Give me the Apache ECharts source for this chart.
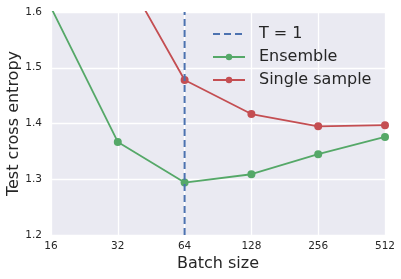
<!DOCTYPE html>
<html><head><meta charset="utf-8">
<script src="https://cdn.jsdelivr.net/npm/echarts@6/dist/echarts.min.js"></script>
<style>html,body{margin:0;padding:0;background:#fff}#c{width:401px;height:279px}</style>
</head><body><div id="c"></div>
<script>
const batchSizes = [16, 32, 64, 128, 256, 512];
const ensemble = [1.608, 1.367, 1.294, 1.309, 1.345, 1.376];
const singleBatch = [32, 64, 128, 256, 512];
const singleSample = [1.69, 1.478, 1.417, 1.395, 1.397];
const tOneBatch = 64;
const yRange = [1.2, 1.6];

const chart = echarts.init(document.getElementById('c'), null, {renderer: 'canvas'});
const font = 'DejaVu Sans';
chart.setOption({
  animation: false,
  textStyle: {fontFamily: font},
  grid: {left: 51, right: 16, top: 12, bottom: 44, show: true, backgroundColor: '#EAEAF2', borderWidth: 0,
         containLabel: false, outerBoundsMode: 'none'},
  legend: {
    orient: 'vertical', left: 207, top: 21, itemWidth: 32, itemHeight: 8, itemGap: 7,
    textStyle: {fontFamily: font, fontSize: 16, color: '#262626', padding: [0, 0, 0, 9]},
    data: [{name: 'T = 1', itemStyle: {opacity: 0}}, 'Ensemble', 'Single sample']
  },
  xAxis: {
    type: 'log', logBase: 2, min: 16, max: 512, interval: 1,
    name: 'Batch size', nameLocation: 'middle', nameGap: 21, nameMoveOverlap: false,
    nameTextStyle: {fontFamily: font, fontSize: 16, color: '#262626'},
    axisLine: {show: false}, axisTick: {show: false},
    axisLabel: {fontFamily: font, fontSize: 10.5, color: '#262626', margin: 6},
    splitLine: {show: true, lineStyle: {color: '#fff', width: 1.3}}
  },
  yAxis: {
    type: 'value', min: yRange[0], max: yRange[1], interval: 0.1,
    name: 'Test cross entropy', nameLocation: 'middle', nameGap: 29, nameRotate: 90, nameMoveOverlap: false,
    nameTextStyle: {fontFamily: font, fontSize: 16, color: '#262626'},
    axisLine: {show: false}, axisTick: {show: false},
    axisLabel: {fontFamily: font, fontSize: 10.5, color: '#262626', margin: 9,
      formatter: v => v.toFixed(1)},
    splitLine: {show: true, lineStyle: {color: '#fff', width: 1.3}}
  },
  series: [
    {name: 'T = 1', type: 'line', symbol: 'none', clip: true,
     data: [[tOneBatch, yRange[0]], [tOneBatch, yRange[1]]],
     lineStyle: {color: '#4C72B0', width: 2, type: [7, 4]}, itemStyle: {color: '#4C72B0'}, z: 5},
    {name: 'Ensemble', type: 'line', symbol: 'circle', symbolSize: 8, clip: true,
     data: batchSizes.map((b, i) => [b, ensemble[i]]),
     lineStyle: {color: '#55A868', width: 1.8}, itemStyle: {color: '#55A868'}, z: 3},
    {name: 'Single sample', type: 'line', symbol: 'circle', symbolSize: 8, clip: true,
     data: singleBatch.map((b, i) => [b, singleSample[i]]),
     lineStyle: {color: '#C44E52', width: 1.8}, itemStyle: {color: '#C44E52'}, z: 4}
  ]
});
</script></body></html>
